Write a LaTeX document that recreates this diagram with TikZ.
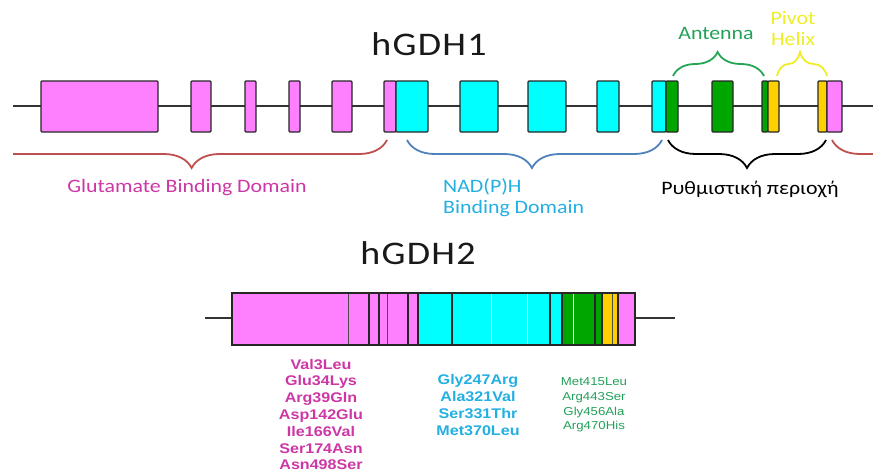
\documentclass[tikz,border=0pt]{standalone}
\usepackage{fontspec}
\usepackage{tikz}
\usetikzlibrary{decorations.pathreplacing}

\newfontfamily\lblfont[FakeStretch=1.15]{Carlito}
\newfontfamily\ttlfont[FakeStretch=1.15,LetterSpace=4]{Carlito}
\newfontfamily\mutfont[FakeStretch=1.15]{Liberation Sans}

\definecolor{glu}{RGB}{255,128,255}
\definecolor{nad}{RGB}{0,255,255}
\definecolor{ant}{RGB}{0,166,0}
\definecolor{piv}{RGB}{255,208,0}
\definecolor{glutext}{RGB}{205,55,165}
\definecolor{nadtext}{RGB}{35,175,225}
\definecolor{anttext}{RGB}{35,160,90}
\definecolor{pivtext}{RGB}{238,238,40}
\definecolor{bracered}{RGB}{192,80,77}
\definecolor{braceblue}{RGB}{79,129,189}
\definecolor{bracegreen}{RGB}{35,165,85}

\begin{document}
\begin{tikzpicture}[
  x=1pt, y=-1pt,
  backbone/.style={draw=black!80, line width=2pt},
  exon/.style={draw=black!85, line width=1.3pt, rounded corners=1pt, inner sep=0pt, minimum height=51pt},
  divider/.style={line width=0.6pt},
  bracket/.style={line width=1.8pt, decorate, decoration={brace, amplitude=28pt}},
  topbracket/.style={line width=1.8pt, decorate, decoration={brace, amplitude=24pt}},
  lbl/.style={font=\lblfont\fontsize{19}{21}\selectfont, inner sep=0pt},
  ttl/.style={font=\ttlfont\fontsize{33}{36}\selectfont, text=black!90, inner sep=0pt},
  mut/.style={font=\mutfont\bfseries\fontsize{14}{16.8}\selectfont, align=center, inner sep=0pt}
]
\useasboundingbox (0,0) rectangle (873,474);

% Titles
\node[ttl] (t1) at (429,44) {hGDH1};
\node[ttl] (t2) at (418,253) {hGDH2};

% hGDH1 backbone
\coordinate (l1) at (13,106);
\coordinate (r1) at (873,106);
\draw[backbone] (l1) -- (r1);

% hGDH1 exons
\foreach \nm/\a/\b/\col in {g1/41/158/glu, g2/191/211/glu, g3/245/256/glu, g4/289/300/glu,
    g5/332/352/glu, g6/384/396/glu, n1/396/428/nad, n2/460/498/nad, n3/528/566/nad,
    n4/597/619/nad, n5/652/666/nad, a1/666/678/ant, a2/712/733/ant, a3/762/768/ant,
    p1/768/779/piv, p2/818/827/piv, g7/827/842/glu} {
  \node[exon, fill=\col, minimum width={(\b-\a)*1pt}] (\nm) at ({(\a+\b)/2}, 106.5) {};
}

% Domain brackets below hGDH1
\begin{scope}
  \clip (13,0) rectangle (873,474);
  \draw[bracket, draw=bracered, decoration={mirror, aspect=0.52}] (-20,140) -- (387,140);
  \draw[bracket, draw=bracered, decoration={mirror}] (832,140) -- (990,140);
\end{scope}
\draw[bracket, draw=braceblue, decoration={mirror, aspect=0.49}] (407,140) -- (662,140);
\draw[bracket, draw=black, decoration={mirror}] (668,140) -- (826,140);

% Brackets above hGDH1
\draw[topbracket, draw=bracegreen, decoration={aspect=0.49}] (673,76) -- (764,76);
\draw[topbracket, draw=pivtext, decoration={aspect=0.46}] (777,76) -- (827,76);

% Labels
\node[lbl, text=glutext] (lglu) at (187,188) {Glutamate Binding Domain};
\node[lbl, text=nadtext, align=left, anchor=west] (lnad) at (443,198) {NAD(P)H\\Binding Domain};
\node[lbl, text=black] (lreg) at (750,189) {Ρυθμιστική περιοχή};
\node[lbl, text=anttext] (lant) at (716,33) {Antenna};
\node[lbl, text=pivtext, align=center] (lpiv) at (793,29) {Pivot\\Helix};

% hGDH2 backbone
\coordinate (l2) at (205,318);
\coordinate (r2) at (675,318);
\draw[backbone] (l2) -- (r2);

% hGDH2 segments
\foreach \nm/\a/\b/\col in {s1/232/369/glu, s2/369/379/glu, s3/379/408/glu, s4/408/418/glu,
    s5/418/452/nad, s6/452/550/nad, s7/550/562/nad, s8/562/595/ant, s9/595/602/ant,
    s10/602/618/piv, s11/618/635/glu} {
  \node[exon, fill=\col, minimum width={(\b-\a)*1pt}, minimum height=52pt, rounded corners=0pt] (\nm) at ({(\a+\b)/2}, 319) {};
}
\foreach \x/\c in {348/black!70, 387/black!70, 612/black!70, 491/white, 527/white, 573/white} {
  \draw[divider, draw=\c] (\x,293.7) -- (\x,344.3);
}

% Mutations
\node[mut, text=glutext] (m1) at (321,414.5) {Val3Leu\\Glu34Lys\\Arg39Gln\\Asp142Glu\\Ile166Val\\Ser174Asn\\Asn498Ser};
\node[mut, text=nadtext] (m2) at (478,405) {Gly247Arg\\Ala321Val\\Ser331Thr\\Met370Leu};
\node[mut, text=anttext, font=\mutfont\fontsize{11.5}{14.7}\selectfont] (m3) at (594,405) {Met415Leu\\Arg443Ser\\Gly456Ala\\Arg470His};

\end{tikzpicture}
\end{document}
